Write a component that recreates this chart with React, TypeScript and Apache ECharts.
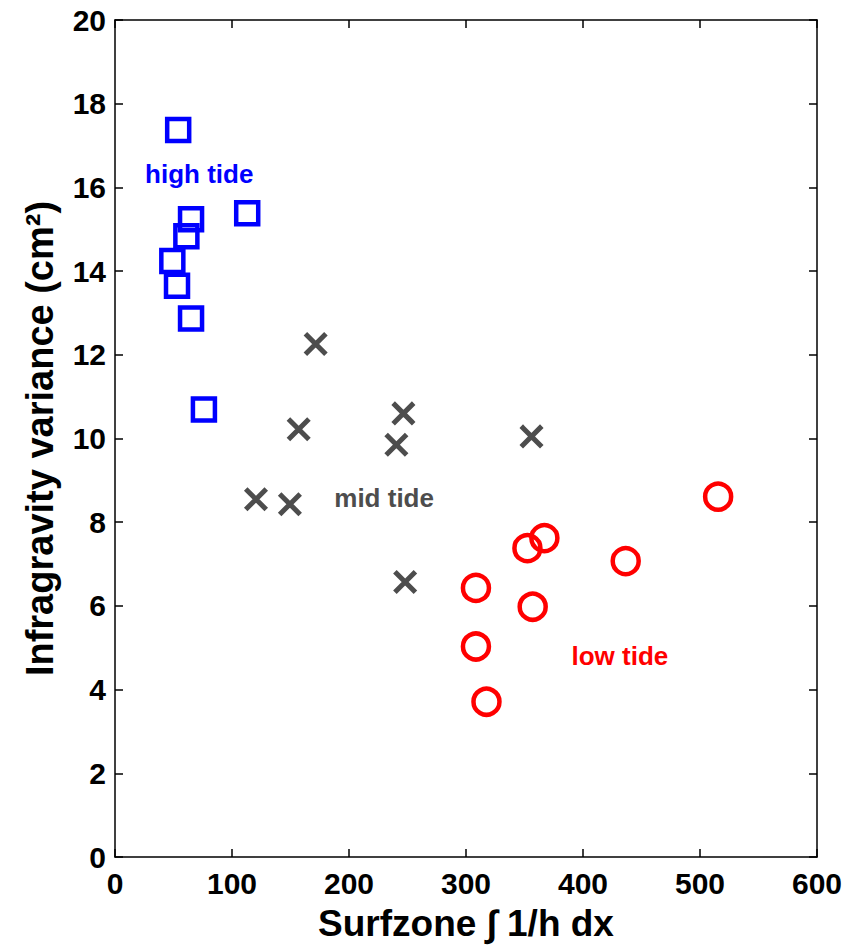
import React, { useEffect, useRef } from "react";
import * as echarts from "echarts";

// High tide (blue squares): [surfzone integral, IG variance]
const highTideX = [54, 113, 65, 61, 49, 53, 65, 76];
const highTideY = [17.37, 15.38, 15.24, 14.83, 14.24, 13.65, 12.87, 10.69];

// Mid tide (grey crosses)
const midTideX = [171.5, 246.5, 157, 240.5, 356, 120.5, 149.5, 248];
const midTideY = [12.26, 10.6, 10.22, 9.85, 10.05, 8.55, 8.43, 6.57];

// Low tide (red circles)
const lowTideX = [515.5, 367, 352.5, 436.5, 308.5, 357, 308.5, 317.5];
const lowTideY = [8.61, 7.62, 7.38, 7.07, 6.43, 5.98, 5.03, 3.71];

// Text annotations
const annotationText = ["high tide", "mid tide", "low tide"];
const annotationX = [72, 230, 431.5];
const annotationY = [16.33, 8.57, 4.8];
const annotationColor = ["#0000ff", "#4d4d4d", "#ff0000"];

const xTitle = "Surfzone \u222B 1/h dx";
const yTitle = "Infragravity variance (cm\u00B2)";

const FONT = "'Liberation Sans', Arial, Helvetica, sans-serif";

const zip = (xs: number[], ys: number[]) => xs.map((x, i) => [x, ys[i]]);

export default function App() {
  const ref = useRef<HTMLDivElement>(null);

  useEffect(() => {
    document.body.style.margin = "0";
    document.body.style.overflow = "hidden";
    document.documentElement.style.overflow = "hidden";
    if (!ref.current) return;
    const chart = echarts.init(ref.current, undefined, { renderer: "svg" });

    const axisCommon = {
      axisLine: { show: true, onZero: false, lineStyle: { color: "#000", width: 1.5 } },
      axisTick: { show: true, inside: true, length: 8, lineStyle: { color: "#000", width: 1.5 } },
      splitLine: { show: false },
    };

    chart.setOption({
      animation: false,
      backgroundColor: "#fff",
      grid: { left: 115, top: 20, width: 702, height: 844, containLabel: false },
      xAxis: [
        {
          type: "value",
          min: 0,
          max: 600,
          interval: 100,
          position: "bottom",
          ...axisCommon,
          axisLabel: {
            show: true,
            margin: 11,
            color: "#000",
            fontSize: 30,
            fontWeight: "bold",
            fontFamily: FONT,
          },
          name: xTitle,
          nameLocation: "middle",
          nameGap: 48,
          nameTextStyle: {
            color: "#000",
            fontSize: 37,
            fontWeight: "bold",
            fontFamily: FONT,
            verticalAlign: "top",
          },
        },
        {
          type: "value",
          min: 0,
          max: 600,
          interval: 100,
          position: "top",
          ...axisCommon,
          axisLabel: { show: false },
        },
      ],
      yAxis: [
        {
          type: "value",
          min: 0,
          max: 20,
          interval: 2,
          position: "left",
          ...axisCommon,
          axisLabel: {
            show: true,
            margin: 9,
            color: "#000",
            fontSize: 30,
            fontWeight: "bold",
            fontFamily: FONT,
          },
          name: yTitle,
          nameLocation: "middle",
          nameGap: 56,
          nameTextStyle: {
            color: "#000",
            fontSize: 38,
            fontWeight: "bold",
            fontFamily: FONT,
          },
        },
        {
          type: "value",
          min: 0,
          max: 20,
          interval: 2,
          position: "right",
          ...axisCommon,
          axisLabel: { show: false },
        },
      ],
      series: [
        {
          type: "scatter",
          name: "high tide",
          data: zip(highTideX, highTideY),
          symbol: "rect",
          symbolSize: 22,
          itemStyle: { color: "rgba(0,0,0,0)", borderColor: "#0000ff", borderWidth: 4.5, opacity: 1 },
          silent: true,
        },
        {
          type: "scatter",
          name: "mid tide",
          data: zip(midTideX, midTideY),
          symbol: "path://M0,0L10,10M10,0L0,10",
          symbolSize: 17,
          itemStyle: {
            color: "rgba(0,0,0,0)",
            borderColor: "#4d4d4d",
            borderWidth: 5,
            borderCap: "square",
            opacity: 1,
          },
          silent: true,
        },
        {
          type: "scatter",
          name: "low tide",
          data: zip(lowTideX, lowTideY),
          symbol: "circle",
          symbolSize: 26,
          itemStyle: { color: "rgba(0,0,0,0)", borderColor: "#ff0000", borderWidth: 4.5, opacity: 1 },
          silent: true,
        },
        {
          type: "scatter",
          name: "annotations",
          silent: true,
          symbolSize: 1,
          itemStyle: { color: "rgba(0,0,0,0)", opacity: 1 },
          data: annotationText.map((t, i) => ({
            value: [annotationX[i], annotationY[i]],
            label: {
              show: true,
              position: "inside",
              formatter: t,
              color: annotationColor[i],
              opacity: 1,
              fontSize: 26,
              fontWeight: "bold",
              fontFamily: FONT,
            },
          })),
        },
      ],
    });

    return () => chart.dispose();
  }, []);

  return <div ref={ref} style={{ width: 851, height: 947 }} />;
}
